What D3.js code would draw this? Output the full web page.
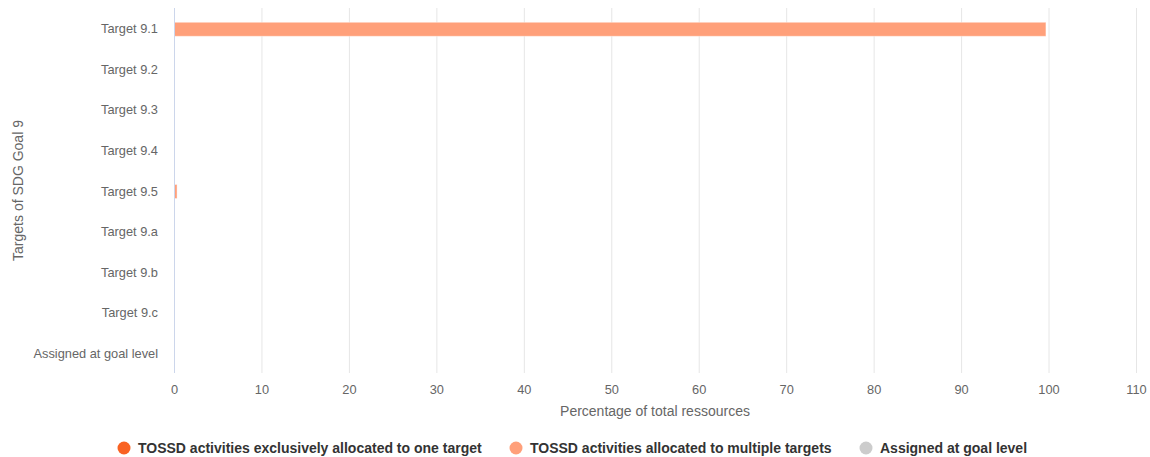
<!DOCTYPE html>
<html>
<head>
<meta charset="utf-8">
<script src="https://cdn.jsdelivr.net/npm/d3@7"></script>
<style>
  body { margin: 0; background: #fff; font-family: "Liberation Sans", Arial, sans-serif; }
  svg { display: block; }
</style>
</head>
<body>
<div id="chart"></div>
<script>
// Chart data
var targets = ["Target 9.1", "Target 9.2", "Target 9.3", "Target 9.4", "Target 9.5",
               "Target 9.a", "Target 9.b", "Target 9.c", "Assigned at goal level"];
var exclusive = [0, 0, 0, 0, 0, 0, 0, 0, 0];
var multiple = [99.7, 0, 0, 0, 0.35, 0, 0, 0, 0];
var goalLevel = [0, 0, 0, 0, 0, 0, 0, 0, 0];
var seriesNames = ["TOSSD activities exclusively allocated to one target",
                   "TOSSD activities allocated to multiple targets",
                   "Assigned at goal level"];
var seriesColors = ["#f96222", "#ffa07a", "#cccccc"];
var xTicks = [0, 10, 20, 30, 40, 50, 60, 70, 80, 90, 100, 110];

var width = 1150, height = 457;
var margin = { top: 8, right: 14, bottom: 84, left: 174 };

var svg = d3.select("#chart").append("svg")
    .attr("width", width)
    .attr("height", height);

var x = d3.scaleLinear().domain([0, 110]).range([margin.left, width - margin.right]);
var y = d3.scaleBand().domain(targets).range([margin.top, height - margin.bottom]).paddingInner(0).paddingOuter(0);

// grid lines
svg.append("g")
    .selectAll("line")
    .data(xTicks)
    .enter().append("line")
    .attr("x1", d => x(d) + 0.5).attr("x2", d => x(d) + 0.5)
    .attr("y1", margin.top).attr("y2", height - margin.bottom)
    .attr("stroke", "#e6e6e6");

// stack the three series
var rows = targets.map((t, i) => ({ target: t, s0: exclusive[i], s1: multiple[i], s2: goalLevel[i] }));
var stacked = d3.stack().keys(["s0", "s1", "s2"])(rows);

var barH = 14;
svg.append("g")
    .selectAll("g")
    .data(stacked)
    .enter().append("g")
    .attr("fill", (d, i) => seriesColors[i])
    .selectAll("rect")
    .data(d => d.filter(p => p[1] - p[0] > 0))
    .enter().append("rect")
    .attr("x", d => x(d[0]))
    .attr("width", d => Math.max(x(d[1]) - x(d[0]), 0))
    .attr("y", d => y(d.data.target) + y.bandwidth() / 2 - barH / 2 + 1)
    .attr("height", barH)
    .attr("stroke", "#ffffff")
    .attr("stroke-opacity", 0.4)
    .attr("stroke-width", 1);

// left axis line
svg.append("line")
    .attr("x1", x(0) + 0.5).attr("x2", x(0) + 0.5)
    .attr("y1", margin.top).attr("y2", height - margin.bottom)
    .attr("stroke", "#ccd6eb");

// y axis labels
var yAxis = svg.append("g")
    .attr("transform", "translate(" + (margin.left - 16) + ",1)")
    .call(d3.axisLeft(y).tickSize(0).tickPadding(0));
yAxis.select(".domain").remove();
yAxis.selectAll("text")
    .attr("font-family", "Liberation Sans, Arial, sans-serif")
    .attr("font-size", 12.8)
    .attr("fill", "#666666");

// x axis labels
var xAxis = svg.append("g")
    .attr("transform", "translate(0," + (height - margin.bottom) + ")")
    .call(d3.axisBottom(x).tickValues(xTicks).tickSize(0).tickPadding(12));
xAxis.select(".domain").remove();
xAxis.selectAll("text")
    .attr("font-family", "Liberation Sans, Arial, sans-serif")
    .attr("font-size", 12.8)
    .attr("fill", "#666666");

// axis titles
svg.append("text")
    .attr("x", (x(0) + x(110)) / 2)
    .attr("y", 416)
    .attr("text-anchor", "middle")
    .attr("font-size", 14)
    .attr("fill", "#666666")
    .text("Percentage of total ressources");

svg.append("text")
    .attr("transform", "translate(23," + ((margin.top + height - margin.bottom) / 2) + ") rotate(-90)")
    .attr("text-anchor", "middle")
    .attr("font-size", 14)
    .attr("fill", "#666666")
    .text("Targets of SDG Goal 9");

// legend
var legendX = [124, 516, 866];
var legend = svg.append("g")
    .selectAll("g")
    .data(seriesNames)
    .enter().append("g")
    .attr("transform", (d, i) => "translate(" + legendX[i] + ",448)");
legend.append("circle")
    .attr("r", 6.5)
    .attr("fill", (d, i) => seriesColors[i]);
legend.append("text")
    .attr("x", 14)
    .attr("dy", "0.35em")
    .attr("font-size", 14)
    .attr("font-weight", "bold")
    .attr("fill", "#333333")
    .text(d => d);
</script>
</body>
</html>
